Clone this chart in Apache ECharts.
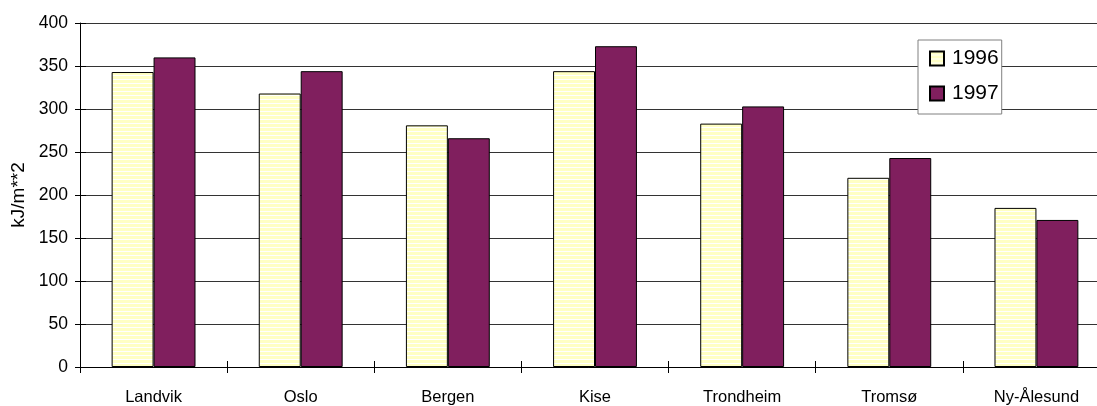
<!DOCTYPE html>
<html>
<head>
<meta charset="utf-8">
<script src="https://cdn.jsdelivr.net/npm/echarts@6/dist/echarts.min.js"></script>
<style>
html,body{margin:0;padding:0;background:#fff;}
#chart{width:1097px;height:406px;}
</style>
</head>
<body>
<div id="chart"></div>
<script>
const categories = ['Landvik', 'Oslo', 'Bergen', 'Kise', 'Trondheim', 'Tromsø', 'Ny-Ålesund'];
const values1996 = [343, 318, 281, 344, 283, 220, 185];
const values1997 = [360, 344, 266, 373, 303, 243, 171];
const seriesNames = ['1996', '1997'];
const yTicks = { min: 0, max: 400, interval: 50 };

// striped pale-yellow fill
const pc = document.createElement('canvas');
pc.width = 8; pc.height = 4;
const pctx = pc.getContext('2d');
pctx.fillStyle = '#FFFFC4';
pctx.fillRect(0, 0, 8, 4);
pctx.fillStyle = '#FFFFFF';
pctx.fillRect(0, 3, 8, 1);
const stripe = { image: pc, repeat: 'repeat' };

const font = 'Liberation Sans, Arial, sans-serif';
const chart = echarts.init(document.getElementById('chart'), null, { renderer: 'canvas' });
chart.setOption({
  animation: false,
  backgroundColor: '#ffffff',
  grid: { left: 80, top: 23, bottom: 39, right: -13, containLabel: false, outerBoundsMode: 'none' },
  legend: {
    orient: 'vertical',
    left: 918, top: 40,
    padding: [8, 3, 10, 11],
    itemGap: 14,
    itemWidth: 14, itemHeight: 14,
    backgroundColor: '#ffffff',
    borderColor: '#808080', borderWidth: 1,
    icon: 'rect',
    textStyle: { fontFamily: font, fontSize: 21, lineHeight: 21, color: '#000', padding: [0, 0, 0, 3] },
    data: seriesNames
  },
  xAxis: [{
    type: 'category',
    data: categories,
    position: 'bottom',
    axisLine: { lineStyle: { color: '#000', width: 1 } },
    axisTick: { show: true, inside: false, length: 6, lineStyle: { color: '#000' } },
    axisLabel: { fontFamily: font, fontSize: 16.5, color: '#000', margin: 22 },
    splitLine: { show: false }
  }, {
    type: 'category',
    data: categories,
    position: 'bottom',
    axisLine: { show: false },
    axisTick: { show: true, inside: true, length: 6, lineStyle: { color: '#000' } },
    axisLabel: { show: false },
    splitLine: { show: false }
  }],
  yAxis: [{
    type: 'value',
    min: yTicks.min, max: yTicks.max, interval: yTicks.interval,
    name: 'kJ/m**2',
    nameLocation: 'middle',
    nameGap: 52,
    nameTextStyle: { fontFamily: font, fontSize: 19, color: '#000' },
    axisLine: { show: true, lineStyle: { color: '#000', width: 1 } },
    axisTick: { show: true, inside: false, length: 5, lineStyle: { color: '#000' } },
    axisLabel: { fontFamily: font, fontSize: 17.5, color: '#000', margin: 12 },
    splitLine: { show: true, lineStyle: { color: '#333', width: 1 } }
  }, {
    type: 'value',
    position: 'left',
    min: yTicks.min, max: yTicks.max, interval: yTicks.interval,
    axisLine: { show: false },
    axisTick: { show: true, inside: true, length: 6, lineStyle: { color: '#000' } },
    axisLabel: { show: false },
    splitLine: { show: false }
  }],
  series: [{
    name: seriesNames[0],
    type: 'bar',
    data: values1996,
    barWidth: '28.5%',
    barGap: '0%',
    itemStyle: { color: stripe, borderColor: '#000', borderWidth: 1 }
  }, {
    name: seriesNames[1],
    type: 'bar',
    data: values1997,
    barWidth: '28.5%',
    barGap: '0%',
    itemStyle: { color: '#801F5E', borderColor: '#000', borderWidth: 1 }
  }]
});
</script>
</body>
</html>
